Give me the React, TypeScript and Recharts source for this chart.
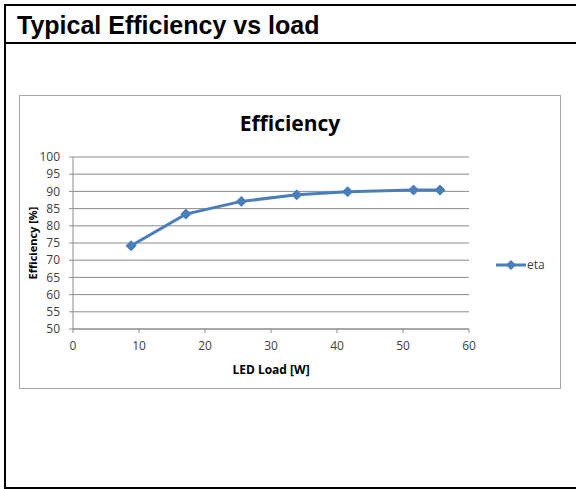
import React from 'react';
import { LineChart, Line, XAxis, YAxis, CartesianGrid, Label } from 'recharts';

const loadW = [8.8, 17.1, 25.5, 33.9, 41.6, 51.6, 55.6];
const etaPct = [74.2, 83.4, 87.1, 89.0, 89.9, 90.4, 90.4];
const xTicks = [0, 10, 20, 30, 40, 50, 60];
const yTicks = [50, 55, 60, 65, 70, 75, 80, 85, 90, 95, 100];

const data = loadW.map((w, i) => ({ load: w, eta: etaPct[i] }));

const BLUE = '#4a7ebb';
const GRID = '#8c8c8c';
const FONT = '"Open Sans", "Noto Sans", sans-serif';

const Diamond = (props: any) => {
  const { cx, cy } = props;
  if (cx == null || cy == null) return null;
  const r = 5;
  return (
    <polygon
      points={`${cx},${cy - r} ${cx + r},${cy} ${cx},${cy + r} ${cx - r},${cy}`}
      fill={BLUE}
      stroke={BLUE}
    />
  );
};

export default function App() {
  return (
    <div style={{ position: 'absolute', left: 0, top: 0, width: 576, height: 489, background: '#fff', overflow: 'hidden' }}>
      {/* outer frame */}
      <div style={{ position: 'absolute', left: 4, top: 4, width: 580, height: 481, borderLeft: '2px solid #000', borderTop: '2px solid #000', borderBottom: '2px solid #000' }} />
      <div style={{ position: 'absolute', left: 4, top: 42, width: 580, height: 2, background: '#000' }} />
      <div style={{ position: 'absolute', left: 17, top: 11, fontFamily: '"Liberation Sans", Arial, sans-serif', fontWeight: 'bold', fontSize: 25, lineHeight: '28px', color: '#000', whiteSpace: 'nowrap' }}>
        Typical Efficiency vs load
      </div>

      {/* chart box */}
      <div style={{ position: 'absolute', left: 19, top: 95, width: 540, height: 292, border: '1px solid #a6a6a6' }}>
        <div style={{ position: 'absolute', left: 0, top: 13, width: 540, textAlign: 'center', fontFamily: FONT, fontWeight: 'bold', fontSize: 21, color: '#000' }}>
          Efficiency
        </div>
        <div style={{ position: 'absolute', left: 0, top: 0 }}>
          <LineChart width={540} height={292} data={data} margin={{ top: 61, right: 91, left: 0, bottom: 0 }}>
            <CartesianGrid vertical={false} stroke={GRID} strokeWidth={1} />
            <XAxis
              dataKey="load"
              type="number"
              domain={[0, 60]}
              ticks={xTicks}
              height={59}
              tickSize={4}
              tickMargin={8}
              stroke={GRID}
              tick={{ fill: '#404040', fontSize: 12, fontFamily: FONT }}
            >
              <Label value="LED Load [W]" position="insideBottom" offset={14} style={{ fill: '#000', fontWeight: 'bold', fontSize: 12, fontFamily: FONT }} />
            </XAxis>
            <YAxis
              type="number"
              domain={[50, 100]}
              ticks={yTicks}
              width={53}
              tickSize={4}
              tickMargin={9}
              stroke={GRID}
              interval={0}
              tick={{ fill: '#404040', fontSize: 12, fontFamily: FONT }}
            >
              <Label value="Efficiency [%]" angle={-90} position="insideLeft" offset={13} style={{ textAnchor: 'middle', fill: '#000', fontWeight: 'bold', fontSize: 11, fontFamily: FONT }} />
            </YAxis>
            <Line
              dataKey="eta"
              stroke={BLUE}
              strokeWidth={3}
              dot={<Diamond />}
              activeDot={false}
              isAnimationActive={false}
            />
          </LineChart>
        </div>
        {/* legend */}
        <div style={{ position: 'absolute', left: 476, top: 160, display: 'flex', alignItems: 'center', fontFamily: FONT, fontSize: 12, color: '#404040' }}>
          <svg width={30} height={12}>
            <line x1={0} y1={6} x2={30} y2={6} stroke={BLUE} strokeWidth={3} />
            <polygon points="15,1 20,6 15,11 10,6" fill={BLUE} />
          </svg>
          <span style={{ marginLeft: 1 }}>eta</span>
        </div>
      </div>
    </div>
  );
}
